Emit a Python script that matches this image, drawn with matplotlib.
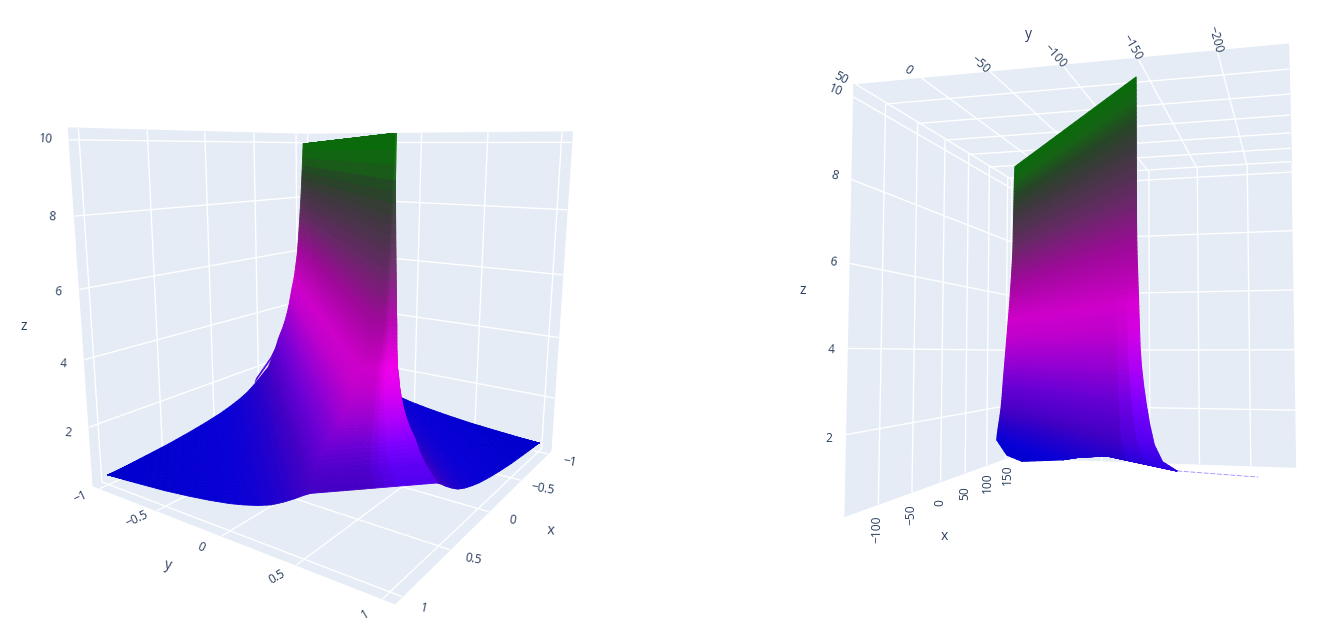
import numpy as np
import matplotlib
matplotlib.use('Agg')
import matplotlib.pyplot as plt
from matplotlib.colors import LinearSegmentedColormap
from mpl_toolkits.mplot3d.art3d import Poly3DCollection

W, H = 1323, 632
plt.rcParams['font.family'] = ['Open Sans', 'DejaVu Sans']
plt.rcParams['grid.color'] = 'white'
plt.rcParams['grid.linewidth'] = 1.0

# left plot: height of the sheet against the gap |x-y|, and where the sheet stops at the near corner
gap = [.01, .02, .03, .04, .05, .06, .07, .08, .09, .10, .115, .13, .15, .17, .19, .21, .24, .27, .30, .33,
       .37, .42, .46, .50, .56, .63, .71, .80, .90, 1.0, 1.15, 1.3, 1.5, 1.7, 1.85, 2.0]
height = [10, 9.2, 8.5, 7.9, 7.4, 6.9, 6.45, 6.05, 5.75, 5.5, 5.2, 4.95, 4.7, 4.4, 4.1, 3.85, 3.55, 3.3, 3.1, 2.9,
          2.55, 2.2, 1.95, 1.85, 1.68, 1.5, 1.32, 1.18, 1.06, .96, .85, .76, .66, .59, .54, .5]
near_end = [.945, .93, .92, .91, .90, .89, .88, .87, .855, .84, .82, .80, .78, .76, .75, .74, .73, .72, .71, .70,
            .69, .68, .77, 1, 1, 1, 1, 1, 1, 1, 1, 1, 1, 1, 1, 1]
top_z_far = 9.95
top_z_near = 10.1
rib_x = [-.8, -.7, -.58, -.4]
rib_y = [-1, -1, -1, -1]
rib_z = [3.6, 2.9, 2.3, 1.7]

# right plot: the sheet runs along one line in x,y, position s along it (0 far end, 1 near end)
line_start = (69.1, 12.0)
line_end = (-133.2, -146.9)
row_z = [10, 9.6, 9.2, 8.8, 8.4, 8, 7.6, 7.2, 6.8, 6.4, 6, 5.6, 5.2, 4.8, 4.4, 4, 3.6, 3.2, 2.8, 2.4,
         2, 1.7, 1.4, 1.1, .92, .55]
far_s = [-.012, -.016, -.019, -.021, -.023, -.025, -.027, -.03, -.037, -.045, -.054, -.063, -.074, -.086,
         -.098, -.109, -.121, -.133, -.144, -.154, -.168, -.183, -.2, -.215, -.22, -.086]
near_s = [1, 1, 1, 1, 1, 1, 1, 1, 1, 1.001, 1.003, 1.006, 1.009, 1.012, 1.015, 1.018, 1.025, 1.036, 1.05,
          1.067, 1.09, 1.13, 1.197, 1.197, 1.197, 1.197]
near_floor = 1.6
mid_s = [.095, .3, .5, .633, .822]
mid_floor = [.53, .8, 1.05, 1.26, 1.49]
tail_s = [1.197, 1.5]
tail_z = [1.6, 1.87]

# colours along z
color_z = [.5, 1, 1.5, 2, 2.8, 3.6, 4.4, 5, 6.2, 7.4, 8.4, 9, 9.5, 10]
color_rgb = [(0, 0, 205), (10, 0, 215), (40, 0, 225), (85, 0, 240), (125, 0, 255), (180, 0, 250), (225, 0, 240),
             (240, 0, 235), (185, 10, 180), (115, 50, 115), (72, 66, 72), (45, 80, 45), (25, 115, 25), (10, 125, 10)]

x_ticks_left = [-1, -.5, 0, .5, 1]
y_ticks_left = [-1, -.5, 0, .5, 1]
z_ticks = [2, 4, 6, 8, 10]
x_ticks_right = [-100, -50, 0, 50, 100, 150]
y_ticks_right = [50, 0, -50, -100, -150, -200]

cmap = LinearSegmentedColormap.from_list(
    'sheet', [((z - .5) / 9.5, tuple(c / 255 for c in rgb)) for z, rgb in zip(color_z, color_rgb)])


def z_color(z, shade):
    c = cmap((np.asarray(z) - .5) / 9.5)[..., :3] * np.asarray(shade)[..., None]
    return np.clip(c, 0, 1)


def refine(A, n, axis):
    # extra facets between the rows, only so the colour runs smoothly over the sheet
    A = np.moveaxis(A, axis, 0)
    idx = np.arange(A.shape[0])
    new = np.linspace(0, A.shape[0] - 1, (A.shape[0] - 1) * n + 1)
    out = np.array([np.interp(new, idx, A[:, j]) for j in range(A.shape[1])]).T
    return np.moveaxis(out, 0, axis)


def grid_faces(X, Y, Z, shade):
    # quads of a mesh, with their colour from the mean height
    P = np.stack([X, Y, Z], axis=-1)
    verts = np.stack([P[:-1, :-1], P[1:, :-1], P[1:, 1:], P[:-1, 1:]], axis=2).reshape(-1, 4, 3)
    zm = verts[:, :, 2].mean(axis=1)
    sh = np.broadcast_to(shade, X.shape)[:-1, :-1].ravel()
    return verts, z_color(zm, sh)


def dim(Z):
    # the flanks of the sheet sit darker than the colour scale
    return np.interp(Z, [1, 2, 5], [1, .82, .86])


def make_axes(fig, lims, cam, fit_c, x_t, y_t, z_t):
    ax = fig.add_axes([0, 0, 1, 1], projection='3d', facecolor='none')
    ax.set_xlim(*lims[0])
    ax.set_ylim(*lims[1])
    ax.set_zlim(*lims[2])
    elev, azim, roll, f, bz, by = cam
    ax.view_init(elev, azim, roll)
    ax.set_proj_type('persp', focal_length=f)
    ax.set_box_aspect((1, by, bz))
    s, tx, ty = fit_c
    vx0, vx1 = ax.viewLim.intervalx
    vy0, vy1 = ax.viewLim.intervaly
    ax.set_position([(tx + s * vx0) / W, 1 - (ty - s * vy0) / H, s * (vx1 - vx0) / W, s * (vy1 - vy0) / H])
    ax.set_xticks(x_t)
    ax.set_yticks(y_t)
    ax.set_zticks(z_t)
    ax.set_xticklabels([''] * len(x_t))
    ax.set_yticklabels([''] * len(y_t))
    ax.set_zticklabels([''] * len(z_t))
    for a in (ax.xaxis, ax.yaxis, ax.zaxis):
        a.set_pane_color('#E5ECF6')
        a.line.set_color('none')
        a._axinfo['tick']['inward_factor'] = 0
        a._axinfo['tick']['outward_factor'] = 0
        a._axinfo['tick']['linewidth'] = {True: 0, False: 0}
    return ax


fig = plt.figure(figsize=(W / 100, H / 100), dpi=100)

# left plot
ax1 = make_axes(fig, ((-1.065, 1.065), (-1.065, 1.065), (.2, 10.3)),
                (12.01, 34.326, -.198, .239, .997, .995), (3126.1, 335.58, 306.77),
                x_ticks_left, y_ticks_left, z_ticks)
t = np.linspace(-1, 1, 31)
g = np.array(gap)
h = np.array(height)
edge = 1 - g / 2
end_near = np.minimum(edge, near_end)
end_far = np.minimum(edge, .95)
all_verts, all_cols = [], []
for sign in (1, -1):
    gg = np.r_[0, g]
    hh = np.r_[10, h]
    en = np.r_[.95, end_near]
    ef = np.r_[.95, end_far]
    S = np.where(t[:, None] > 0, t[:, None] * en, t[:, None] * ef)
    Z0 = np.tile(hh, (len(t), 1))
    Z0[:, :2] = top_z_far + (top_z_near - top_z_far) * ((t + 1) / 2)[:, None]
    X = refine(S + sign * gg / 2, 3, 1)
    Y = refine(S - sign * gg / 2, 3, 1)
    Z = refine(Z0, 3, 1)
    v, c = grid_faces(X, Y, Z, dim(Z))
    all_verts.append(v)
    all_cols.append(c)
# the end piece that closes the sheet at the corner x=1, y=1
u = np.linspace(0, 1, 13)
keep = g <= .47
cap_g = g[keep]
cap_h = h[keep].copy()
cap_h[0] = top_z_near
cap_s = end_near[keep]
X = refine(cap_s[:, None] + np.outer(cap_g, .5 - u), 3, 0)
Y = refine(cap_s[:, None] - np.outer(cap_g, .5 - u), 3, 0)
Z = refine(np.tile(cap_h[:, None], (1, len(u))), 3, 0)
side = np.tile(np.interp(u, [.4, .65], [0, 1]), (X.shape[0], 1))
sh = dim(Z) + (1.0 - dim(Z)) * side
v, c = grid_faces(X, Y, Z, sh)
all_verts.append(v)
all_cols.append(c)
verts = np.concatenate(all_verts)
cols = np.concatenate(all_cols)
ax1.add_collection3d(Poly3DCollection(verts, facecolors=cols, edgecolors=cols, linewidths=.6))
for dx, dy in ((0, 0), (.03, .02), (.06, .04)):
    ax1.plot(np.array(rib_x) + dx, np.array(rib_y) + dy, rib_z, color='#5a10e0', lw=.7)

# right plot
ax2 = make_axes(fig, ((-143, 157), (-243, 52), (.13, 10.3)),
                (-3.535, 193.7, .027, .234, .9896, .9855), (3254.97, 1110.21, 306.44),
                x_ticks_right, y_ticks_right, z_ticks)
rz = np.array(row_z)
S = np.column_stack([far_s] + [np.full(len(rz), m) for m in mid_s] + [near_s])
Z = np.column_stack([rz] + [np.maximum(rz, m) for m in mid_floor] + [np.maximum(rz, near_floor)])
S = refine(refine(S, 4, 0), 3, 1)
Z = refine(refine(Z, 4, 0), 3, 1)
X = line_start[0] + S * (line_end[0] - line_start[0])
Y = line_start[1] + S * (line_end[1] - line_start[1])
shade = dim(Z) + (1 - dim(Z)) * np.interp(S, [.85, .97], [0, 1]) * np.interp(Z, [4, 5.5], [1, 0])
v, c = grid_faces(X, Y, Z, shade)
ax2.add_collection3d(Poly3DCollection(v, facecolors=c, edgecolors=c, linewidths=.8))
ts = np.array(tail_s)
ax2.plot(line_start[0] + ts * (line_end[0] - line_start[0]), line_start[1] + ts * (line_end[1] - line_start[1]),
         tail_z, color='#6a5cff', lw=.6, ls=(0, (6, 2)), alpha=.7)

tick_color = '#2a3f5f'


def label(x, y, s, rot=0, size=8.64):
    fig.text(x / W, 1 - y / H, s, rotation=rot, rotation_mode='anchor', ha='center', va='center',
             fontsize=size, color=tick_color)


def fmt(v):
    s = ('%g' % v)
    return s.replace('-', '\u2212')


# tick labels, placed along the box edges as in the picture
for v, (px, py) in zip(z_ticks, [(68, 433), (63, 364), (58, 292), (52, 217), (46, 139)]):
    label(px, py, fmt(v), -4)
for v, (px, py, r) in zip(y_ticks_left, [(80, 497, 25), (137, 519, 25), (201, 547, -25), (277, 577, 30), (365, 614, 30)]):
    label(px, py, fmt(v), r)
for v, (px, py, r) in zip(x_ticks_left, [(570, 462, -10), (543, 489, -10), (512, 520, -10), (473, 559, -10), (424, 608, -12)]):
    label(px, py, fmt(v), r)
label(24, 326, 'z', 0, 10.08)
label(168, 565, 'y', -12, 10.08)
label(551, 531, 'x', -5, 10.08)

for v, (px, py, r) in zip(z_ticks, [(829, 439, 0), (831, 350, -3), (833, 262, -8), (835, 176, -15), (836, 90, -22)]):
    label(px, py, fmt(v), r)
for v, (px, py, r) in zip(y_ticks_right, [(841, 78, -28), (908, 70, -35), (980, 64, -42), (1055, 56, -48), (1132, 47, -60), (1215, 39, -75)]):
    label(px, py, fmt(v), r)
for v, (px, py) in zip(x_ticks_right, [(877, 529), (911, 515), (940, 503), (965, 493), (987, 483), (1007, 475)]):
    label(px, py, fmt(v), 90)
label(803, 291, 'z', 0, 10.08)
label(1028, 34, 'y', 0, 10.08)
label(944, 537, 'x', 0, 10.08)

fig.savefig('out.png', dpi=100)
